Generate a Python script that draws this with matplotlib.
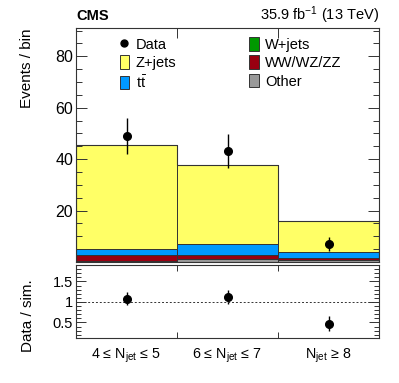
import matplotlib
matplotlib.use("Agg")
import matplotlib.pyplot as plt
import numpy as np
from matplotlib.ticker import MultipleLocator, FixedLocator, NullFormatter, FixedFormatter
from matplotlib.patches import Patch
from matplotlib.lines import Line2D

plt.rcParams['font.family'] = ['Liberation Sans', 'DejaVu Sans']
plt.rcParams['mathtext.fontset'] = 'custom'
plt.rcParams['mathtext.rm'] = 'Liberation Sans'
plt.rcParams['mathtext.it'] = 'Liberation Sans:italic'

# ---- data ----
categories = ["4 ≤ N$_{\\mathregular{jet}}$ ≤ 5", "6 ≤ N$_{\\mathregular{jet}}$ ≤ 7", "N$_{\\mathregular{jet}}$ ≥ 8"]
other = [0.4, 1.3, 0.8]
wjets = [0.05, 0.05, 0.05]
diboson = [2.2, 1.4, 0.6]
ttbar = [2.4, 4.2, 2.4]
zjets = [40.3, 30.9, 12.0]
data = [49, 43, 7]
data_err = [7.0, 6.6, 2.6]
ratio = [1.08, 1.13, 0.47]
ratio_err = [0.15, 0.17, 0.19]

labels = ["Other", "W+jets", "WW/WZ/ZZ", r"$\mathregular{t\bar{t}}$", "Z+jets"]
colors = ["#999999", "#009900", "#990011", "#0099ff", "#ffff66"]
components = [other, wjets, diboson, ttbar, zjets]

W, H = 399, 383
fig = plt.figure(figsize=(W / 100, H / 100), dpi=100)

L, R = 76, 379
ax = fig.add_axes([L / W, 1 - 262 / H, (R - L) / W, (262 - 28) / H])
rax = fig.add_axes([L / W, 1 - 338 / H, (R - L) / W, (338 - 265) / H])

n = len(categories)
edges = np.arange(n + 1)
centers = np.arange(n) + 0.5

bottom = np.zeros(n)
for vals, c in zip(components, colors):
    vals = np.array(vals)
    ax.bar(centers, vals, width=1.0, bottom=bottom, color=c, edgecolor='#333333',
           linewidth=0.7, align='center')
    bottom = bottom + vals
ax.stairs(bottom, edges, color='#333333', linewidth=0.8)

ax.errorbar(centers, data, yerr=data_err, fmt='o', color='black', markersize=5.5,
            elinewidth=1.0, capsize=0)

ax.set_xlim(0, n)
ax.set_ylim(0, 91)
ax.set_ylabel("Events / bin", fontsize=11)
ax.yaxis.set_label_coords(-0.139, 0.827)
ax.yaxis.set_major_locator(MultipleLocator(20))
ax.yaxis.set_minor_locator(MultipleLocator(5))
ax.set_yticks([20, 40, 60, 80])
ax.xaxis.set_major_locator(FixedLocator([1, 2]))
ax.xaxis.set_major_formatter(NullFormatter())
ax.tick_params(axis='both', which='both', direction='in', top=True, right=True,
               labelsize=11.5, width=0.7, colors='#333333', labelcolor='black')
ax.tick_params(axis='y', which='major', length=8, pad=2)
ax.tick_params(axis='y', which='minor', length=4)
ax.tick_params(axis='x', which='major', length=7)
for s in ax.spines.values():
    s.set_linewidth(0.8)
    s.set_color('#333333')

# legend
h_data = Line2D([], [], marker='o', color='black', markersize=5, linestyle='none')
handles = [h_data,
           Patch(facecolor=colors[4], edgecolor='#333333', linewidth=0.7),
           Patch(facecolor=colors[3], edgecolor='#333333', linewidth=0.7),
           Patch(facecolor=colors[1], edgecolor='#333333', linewidth=0.7),
           Patch(facecolor=colors[2], edgecolor='#333333', linewidth=0.7),
           Patch(facecolor=colors[0], edgecolor='#333333', linewidth=0.7)]
leg_labels = ["Data", "Z+jets", labels[3], "W+jets", "WW/WZ/ZZ", "Other"]
ax.legend(handles, leg_labels, ncol=2, loc='upper left', bbox_to_anchor=(0.11, 1.005),
          frameon=False, fontsize=10.5, handlelength=0.65, handleheight=1.05,
          handletextpad=0.45, columnspacing=5.0, labelspacing=0.25, borderpad=0.2)

fig.text(L / W, 1 - 20 / H, "CMS", fontsize=10.5, fontweight='bold', ha='left', va='baseline')
fig.text(R / W, 1 - 20 / H, "35.9 fb$^{\\mathregular{-1}}$ (13 TeV)", fontsize=10.5,
         ha='right', va='baseline')

# ratio panel
rax.errorbar(centers, ratio, yerr=ratio_err, fmt='o', color='black', markersize=5.5,
             elinewidth=1.0, capsize=0)
rax.axhline(1.0, color='#333333', linestyle=(0, (2, 2)), linewidth=0.7)
rax.set_xlim(0, n)
rax.set_ylim(0.12, 1.9)
rax.set_yticks([0.5, 1, 1.5])
rax.set_yticklabels(["0.5", "1", "1.5"])
rax.yaxis.set_minor_locator(MultipleLocator(0.1))
rax.set_ylabel("Data / sim.", fontsize=11)
rax.yaxis.set_label_coords(-0.135, 0.30)
rax.xaxis.set_major_locator(FixedLocator([1, 2]))
rax.xaxis.set_major_formatter(NullFormatter())
rax.xaxis.set_minor_locator(FixedLocator(list(centers)))
rax.xaxis.set_minor_formatter(FixedFormatter(categories))
rax.tick_params(axis='x', which='minor', length=0, labelsize=10.3, pad=6)
rax.tick_params(axis='x', which='major', direction='in', top=True, length=4, width=0.7,
                colors='#333333')
rax.tick_params(axis='y', which='both', direction='in', right=True, labelsize=10.5,
                width=0.7, colors='#333333', labelcolor='black')
rax.tick_params(axis='y', which='major', length=7, pad=2)
rax.tick_params(axis='y', which='minor', length=3.5)
for s in rax.spines.values():
    s.set_linewidth(0.8)
    s.set_color('#333333')

fig.savefig("out.png", dpi=100)
